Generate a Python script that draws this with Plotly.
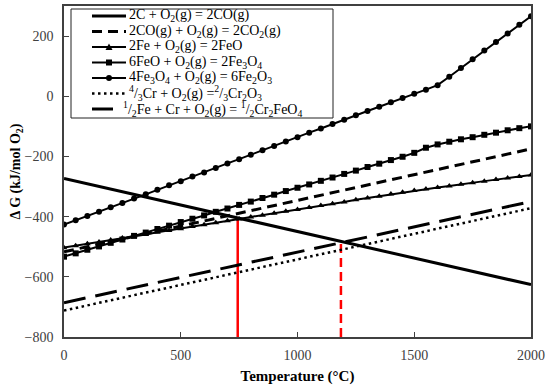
import plotly.graph_objects as go

# ---- data ----
T50 = [0, 50, 100, 150, 200, 250, 300, 350, 400, 450, 500, 550, 600, 650, 700, 750, 800, 850, 900, 950,
       1000, 1050, 1100, 1150, 1200, 1250, 1300, 1350, 1400, 1450, 1500, 1550, 1600, 1650, 1700, 1750,
       1800, 1850, 1900, 1950, 2000]

FE_FEO = [-503, -497, -490, -484, -478, -471, -465, -459, -452, -446, -440, -433, -427, -420, -414, -408,
          -401, -395, -389, -382, -376, -370, -363, -357, -351, -344, -338, -332, -325, -319, -313, -308,
          -303, -298, -292, -287, -282, -277, -272, -267, -262]

FEO_FE3O4 = [-533, -522, -510, -499, -487, -476, -464, -453, -441, -430, -418, -407, -396, -384, -373, -361,
             -350, -338, -327, -315, -304, -293, -281, -270, -258, -247, -235, -224, -212, -201, -188, -171,
             -160, -151, -143, -136, -128, -121, -113, -106, -100]

FE3O4_FE2O3 = [-426, -412, -398, -384, -369, -355, -340, -326, -311, -296, -282, -267, -253, -238, -223, -209,
               -194, -179, -165, -150, -136, -121, -107, -92, -78, -63, -49, -35, -20, -6, 8, 22,
               37, 65, 94, 123, 152, 180, 209, 238, 266]

T_LINE = [0, 500, 1000, 1500, 2000]
C_CO = [-273, -361, -450, -538, -626]
CO_CO2 = [-517, -431, -346, -260, -175]
CR_CR2O3 = [-712, -627, -542, -457, -372]
FE_CR_CR2FEO4 = [-686, -602, -518, -434, -350]

RED_T = [744, 1186]
RED_TOP = [-408, -485]
Y_BOTTOM = -800

NAMES = [
    "2C + O<sub>2</sub>(g) = 2CO(g)",
    "2CO(g) + O<sub>2</sub>(g) = 2CO<sub>2</sub>(g)",
    "2Fe + O<sub>2</sub>(g) = 2FeO",
    "6FeO + O<sub>2</sub>(g) = 2Fe<sub>3</sub>O<sub>4</sub>",
    "4Fe<sub>3</sub>O<sub>4</sub> + O<sub>2</sub>(g) = 6Fe<sub>2</sub>O<sub>3</sub>",
    "<sup>4</sup>/<sub>3</sub>Cr + O<sub>2</sub>(g) =<sup>2</sup>/<sub>3</sub>Cr<sub>2</sub>O<sub>3</sub>",
    "<sup>1</sup>/<sub>2</sub>Fe + Cr + O<sub>2</sub>(g) = <sup>1</sup>/<sub>2</sub>Cr<sub>2</sub>FeO<sub>4</sub>",
]

FONT = "Liberation Serif, Times New Roman, serif"

# ---- layout geometry (pixels) ----
W, H = 550, 392
L, R, TOP, B = 64, 19, 6, 55
PW, PH = W - L - R, H - TOP - B


def xp(px):
    return (px - L) / PW


def yp(py):
    return (H - B - py) / PH


styles = [
    dict(line=dict(color="black", width=3), marker=None),
    dict(line=dict(color="black", width=3, dash="10px,6px"), marker=None),
    dict(line=dict(color="black", width=2), marker="triangle-up"),
    dict(line=dict(color="black", width=2), marker="square"),
    dict(line=dict(color="black", width=2), marker="circle"),
    dict(line=dict(color="black", width=2.5, dash="2.5px,3.5px"), marker=None),
    dict(line=dict(color="black", width=3, dash="22px,10px"), marker=None),
]

series = [
    (T_LINE, C_CO), (T_LINE, CO_CO2), (T50, FE_FEO), (T50, FEO_FE3O4),
    (T50, FE3O4_FE2O3), (T_LINE, CR_CR2O3), (T_LINE, FE_CR_CR2FEO4),
]

fig = go.Figure()

# red vertical guide lines
fig.add_trace(go.Scatter(x=[RED_T[0], RED_T[0]], y=[Y_BOTTOM, RED_TOP[0]], mode="lines",
                         line=dict(color="#ff0000", width=2.5), showlegend=False, hoverinfo="skip"))
fig.add_trace(go.Scatter(x=[RED_T[1], RED_T[1]], y=[Y_BOTTOM, RED_TOP[1]], mode="lines",
                         line=dict(color="#ff0000", width=2.5, dash="9px,5px"), showlegend=False,
                         hoverinfo="skip"))

for (xs, ys), name, st in zip(series, NAMES, styles):
    kw = dict(x=xs, y=ys, name=name, line=st["line"], showlegend=False)
    if st["marker"]:
        kw["mode"] = "lines+markers"
        kw["marker"] = dict(symbol=st["marker"], size=6, color="black")
    else:
        kw["mode"] = "lines"
    fig.add_trace(go.Scatter(**kw))

# ---- hand-built legend (tight row spacing like the reference) ----
shapes = [dict(type="rect", xref="paper", yref="paper", x0=xp(71), x1=xp(333), y0=yp(118), y1=yp(9),
               line=dict(color="#222222", width=1), fillcolor="white", layer="above")]
annotations = []
rows = [16, 31.5, 47, 62.5, 78, 93.5, 109]
for i, (name, st, ry) in enumerate(zip(NAMES, styles, rows)):
    x_end = 113 if i == 6 else 126
    shapes.append(dict(type="line", xref="paper", yref="paper", x0=xp(92), x1=xp(x_end),
                       y0=yp(ry), y1=yp(ry), line=st["line"], layer="above"))
    cx = 109
    if st["marker"] == "circle":
        shapes.append(dict(type="circle", xref="paper", yref="paper", x0=xp(cx - 3), x1=xp(cx + 3),
                           y0=yp(ry + 3), y1=yp(ry - 3), fillcolor="black", line=dict(width=0),
                           layer="above"))
    elif st["marker"] == "square":
        shapes.append(dict(type="rect", xref="paper", yref="paper", x0=xp(cx - 3), x1=xp(cx + 3),
                           y0=yp(ry + 3), y1=yp(ry - 3), fillcolor="black", line=dict(width=0),
                           layer="above"))
    elif st["marker"] == "triangle-up":
        path = "M {} {} L {} {} L {} {} Z".format(xp(cx - 3.5), yp(ry + 3), xp(cx + 3.5), yp(ry + 3),
                                                   xp(cx), yp(ry - 3.5))
        shapes.append(dict(type="path", xref="paper", yref="paper", path=path, fillcolor="black",
                           line=dict(width=0), layer="above"))
    tx = 122 if i == 6 else 127.5
    annotations.append(dict(text=name, xref="paper", yref="paper", x=xp(tx), y=yp(ry),
                            xanchor="left", yanchor="middle", showarrow=False, borderpad=0,
                            font=dict(family=FONT, size=14, color="black")))

axis_common = dict(
    showline=True, linecolor="#404040", linewidth=1.5, mirror=True,
    ticks="inside", ticklen=5, tickcolor="#404040", tickwidth=1,
    showgrid=False, zeroline=False,
    tickfont=dict(family=FONT, size=14, color="#404040"),
)

fig.update_xaxes(range=[0, 2000], tick0=0, dtick=500, ticklabelstandoff=4,
                 title=dict(text="<b>Temperature (°C)</b>", font=dict(family=FONT, size=15, color="black"),
                            standoff=9),
                 **axis_common)
fig.update_yaxes(range=[-800, 300], tick0=-800, dtick=200, ticklabelstandoff=6,
                 title=dict(text="<b>Δ G (kJ/mol O<sub>2</sub>)</b>",
                            font=dict(family=FONT, size=14, color="black"), standoff=1),
                 **axis_common)

fig.update_layout(
    width=W, height=H,
    margin=dict(l=L, r=R, t=TOP, b=B, autoexpand=False),
    paper_bgcolor="white", plot_bgcolor="white",
    font=dict(family=FONT, size=14, color="black"),
    showlegend=False,
    shapes=shapes,
    annotations=annotations,
)

fig.write_html("out.html", config={"displayModeBar": False},
               post_script="document.body.style.margin='0px';")
